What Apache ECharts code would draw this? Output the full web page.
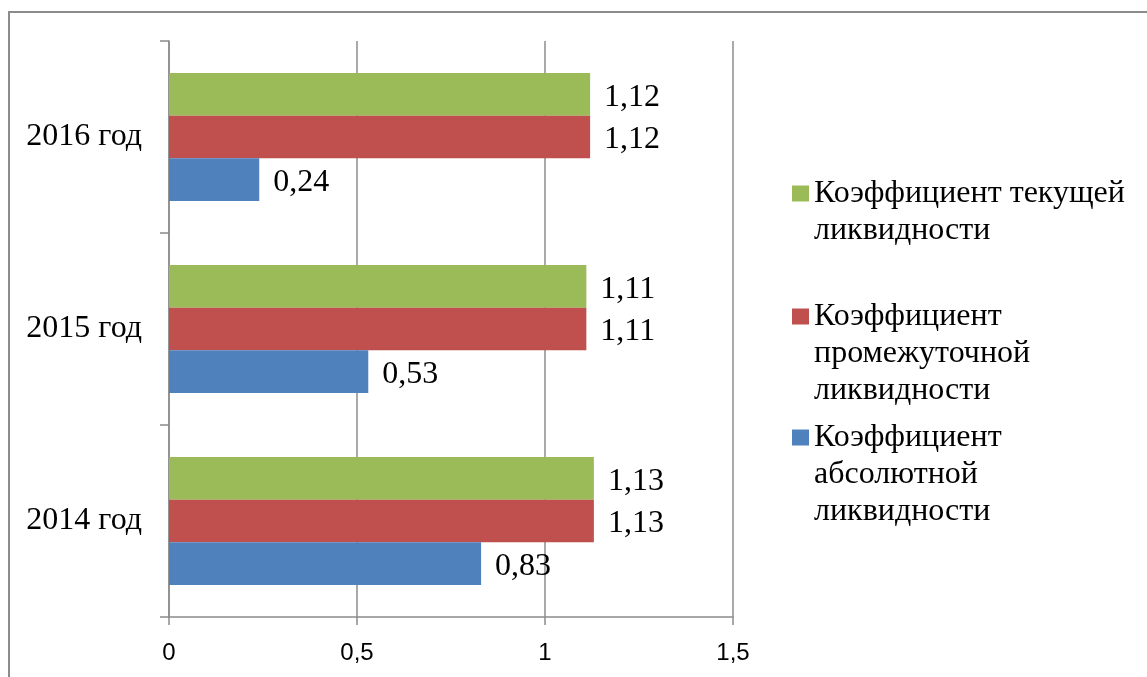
<!DOCTYPE html>
<html>
<head>
<meta charset="utf-8">
<script src="https://cdn.jsdelivr.net/npm/echarts@6/dist/echarts.min.js"></script>
<style>
  html, body { margin: 0; padding: 0; background: #fff; }
  #chart { width: 1147px; height: 677px; }
</style>
</head>
<body>
<div id="chart"></div>
<script>
// Liquidity ratios by year
const categories = ['2014 год', '2015 год', '2016 год'];
const currentRatio = [1.13, 1.11, 1.12];
const intermediateRatio = [1.13, 1.11, 1.12];
const absoluteRatio = [0.83, 0.53, 0.24];
const xTicks = { min: 0, max: 1.5, interval: 0.5 };

// series order puts the first one at the top of each year group
const seriesNames = [
  'Коэффициент текущей ликвидности',
  'Коэффициент промежуточной ликвидности',
  'Коэффициент абсолютной ликвидности'
];
// legend text split into lines
const legendLines = {
  'Коэффициент текущей ликвидности': ['Коэффициент текущей', 'ликвидности'],
  'Коэффициент промежуточной ликвидности': ['Коэффициент', 'промежуточной', 'ликвидности'],
  'Коэффициент абсолютной ликвидности': ['Коэффициент', 'абсолютной', 'ликвидности']
};
const colors = ['#9BBB59', '#C0504D', '#4F81BD'];
const seriesData = [currentRatio, intermediateRatio, absoluteRatio];

const serif = '"Liberation Serif", "Times New Roman", serif';
const sans = '"Liberation Sans", Arial, sans-serif';
const LINE_H = 37;

const comma = v => String(v).replace('.', ',');

// square icon sitting on the first text line of a multi-line legend entry
function iconPath(lines) {
  const h = LINE_H * lines;
  const y0 = LINE_H / 2 - 8;
  return 'path://M0,' + y0 + 'H17V' + (y0 + 16) + 'H0Z M0,0L0.01,0 M0,' + h + 'L0.01,' + h;
}

function legendFor(name, top) {
  const n = legendLines[name].length;
  return {
    data: [name],
    left: 792,
    top: top,
    orient: 'vertical',
    selectedMode: false,
    padding: 0,
    itemWidth: 17,
    itemHeight: LINE_H * n,
    itemGap: 0,
    icon: iconPath(n),
    formatter: nm => legendLines[nm].join('\n'),
    textStyle: {
      fontFamily: serif,
      fontSize: 32,
      lineHeight: LINE_H,
      color: '#000',
      padding: [0, 0, 0, 0]
    }
  };
}

const option = {
  animation: false,
  backgroundColor: '#fff',
  graphic: [{
    type: 'rect',
    shape: { x: 9, y: 12, width: 1200, height: 700 },
    style: { fill: 'none', stroke: '#8c8c8c', lineWidth: 2 },
    silent: true
  }],
  legend: [
    legendFor(seriesNames[0], 175),
    legendFor(seriesNames[1], 298),
    legendFor(seriesNames[2], 419)
  ],
  grid: { left: 169, right: 414, top: 41, bottom: 60 },
  xAxis: {
    type: 'value',
    min: xTicks.min,
    max: xTicks.max,
    interval: xTicks.interval,
    axisLine: { show: true, lineStyle: { color: '#8c8c8c', width: 1.5 } },
    axisTick: { show: true, length: 8, lineStyle: { color: '#8c8c8c', width: 1.5 } },
    axisLabel: {
      margin: 24,
      fontFamily: sans,
      fontSize: 24,
      color: '#000',
      formatter: v => comma(v)
    },
    splitLine: { show: true, lineStyle: { color: '#8c8c8c', width: 1.5 } }
  },
  yAxis: {
    type: 'category',
    data: categories,
    axisLine: { show: true, lineStyle: { color: '#8c8c8c', width: 1.5 } },
    axisTick: { show: true, length: 9, lineStyle: { color: '#8c8c8c', width: 1.5 } },
    axisLabel: {
      margin: 27,
      fontFamily: serif,
      fontSize: 32,
      color: '#000',
      padding: [4, 0, 0, 0]
    }
  },
  series: seriesNames.map((name, i) => ({
    type: 'bar',
    name: name,
    data: seriesData[i],
    barGap: '0%',
    barCategoryGap: '33.3%',
    itemStyle: { color: colors[i] },
    label: {
      show: true,
      position: 'right',
      distance: 14,
      offset: [0, 3],
      fontFamily: serif,
      fontSize: 32,
      color: '#000',
      formatter: p => comma(p.value)
    }
  }))
};

const chart = echarts.init(document.getElementById('chart'), null, { renderer: 'canvas' });
chart.setOption(option);
</script>
</body>
</html>
